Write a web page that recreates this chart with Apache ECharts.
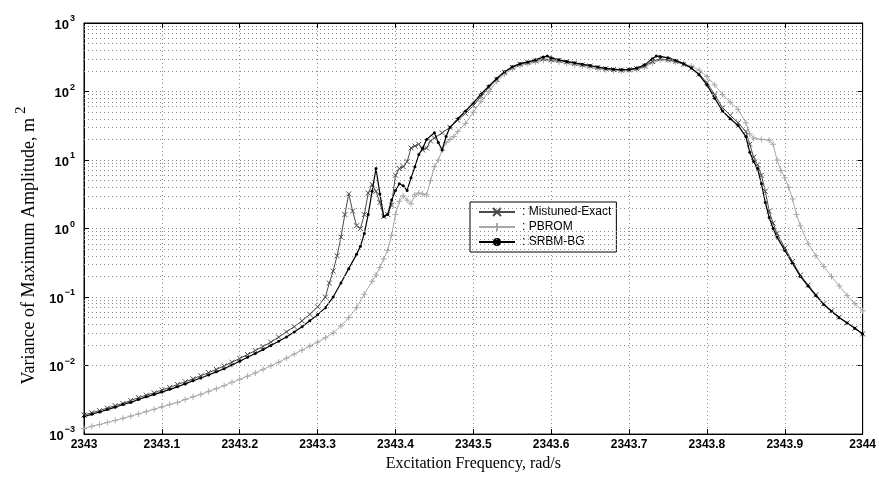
<!DOCTYPE html>
<html>
<head>
<meta charset="utf-8">
<script src="https://cdn.jsdelivr.net/npm/echarts@6/dist/echarts.min.js"></script>
<style>
html,body{margin:0;padding:0;background:#fff;}
#chart{width:879px;height:477px;}
</style>
</head>
<body>
<div id="chart"></div>
<script>
// ---------- data ----------
const seriesNames = ['Mistuned-Exact', 'PBROM', 'SRBM-BG'];
const xTickValues = [2343, 2343.1, 2343.2, 2343.3, 2343.4, 2343.5, 2343.6, 2343.7, 2343.8, 2343.9, 2344];
const yTickExponents = [-3, -2, -1, 0, 1, 2, 3];

const freqME = [
  2343.00,2343.01,2343.02,2343.03,2343.04,2343.05,2343.06,2343.07,2343.08,2343.09,
  2343.10,2343.11,2343.12,2343.13,2343.14,2343.15,2343.16,2343.17,2343.18,2343.19,
  2343.20,2343.21,2343.22,2343.23,2343.24,2343.25,2343.26,2343.27,2343.28,2343.29,
  2343.30,2343.31,2343.315,2343.32,2343.325,2343.33,2343.335,2343.34,2343.345,2343.35,
  2343.355,2343.36,2343.365,2343.37,2343.375,2343.38,2343.385,2343.39,2343.395,2343.40,
  2343.405,2343.41,2343.415,2343.42,2343.425,2343.43,2343.435,2343.44,2343.445,2343.45,
  2343.46,2343.47,2343.48,2343.49,2343.50,2343.51,2343.52,2343.53,2343.54,2343.55,
  2343.56,2343.57,2343.58,2343.59,2343.60,2343.61,2343.62,2343.63,2343.64,2343.65,
  2343.66,2343.67,2343.68,2343.69,2343.70,2343.71,2343.72,2343.73,2343.74,2343.75,
  2343.76,2343.77,2343.78,2343.79,2343.80,2343.81,2343.82,2343.83,2343.84,2343.85,
  2343.855,2343.86,2343.865,2343.87,2343.875,2343.88,2343.885,2343.89,2343.90,2343.91,
  2343.92,2343.93,2343.94,2343.95,2343.96,2343.97,2343.98,2343.99,2344.00
];
const valME = [
  0.0019,0.00205,0.0022,0.0024,0.0026,0.0028,0.0031,0.0034,0.0037,0.0040,
  0.0044,0.0048,0.0053,0.0058,0.0064,0.0071,0.0079,0.0088,0.0099,0.0112,
  0.0127,0.0145,0.0166,0.019,0.022,0.026,0.031,0.037,0.045,0.056,
  0.072,0.1,0.16,0.24,0.4,0.75,1.6,3.2,1.8,1.1,
  1.0,1.6,3.3,4.4,3.5,2.4,1.5,1.6,2.2,6.0,
  7.5,8.0,9.5,15,16,17,14,15,19,21,
  25,30,38,48,62,85,115,150,190,225,
  250,265,280,300,290,285,270,258,245,235,
  225,215,210,205,208,215,235,275,300,290,
  275,250,220,180,135,90,58,45,35,26,
  17,11,8.5,6,3.5,1.8,1.2,0.85,0.52,0.33,
  0.21,0.15,0.108,0.08,0.063,0.051,0.042,0.035,0.029
];

const freqPB = [
  2343.00,2343.01,2343.02,2343.03,2343.04,2343.05,2343.06,2343.07,2343.08,2343.09,
  2343.10,2343.11,2343.12,2343.13,2343.14,2343.15,2343.16,2343.17,2343.18,2343.19,
  2343.20,2343.21,2343.22,2343.23,2343.24,2343.25,2343.26,2343.27,2343.28,2343.29,
  2343.30,2343.31,2343.32,2343.33,2343.34,2343.35,2343.36,2343.37,
  2343.375,2343.38,2343.385,2343.39,2343.395,2343.40,2343.405,2343.41,2343.415,2343.42,
  2343.425,2343.43,2343.435,2343.44,2343.445,2343.45,2343.455,2343.46,2343.465,2343.47,
  2343.475,2343.48,2343.49,2343.50,2343.51,2343.52,2343.53,2343.54,2343.55,2343.56,
  2343.57,2343.58,2343.59,2343.60,2343.61,2343.62,2343.63,2343.64,2343.65,2343.66,
  2343.67,2343.68,2343.69,2343.70,2343.71,2343.72,2343.73,2343.74,2343.75,2343.76,
  2343.77,2343.78,2343.79,2343.80,2343.81,2343.82,2343.83,2343.84,2343.85,
  2343.855,2343.86,2343.87,2343.88,2343.885,2343.89,2343.895,2343.90,2343.905,2343.91,
  2343.915,2343.92,2343.93,2343.94,2343.95,2343.96,2343.97,2343.98,2343.99,2344.00
];
const valPB = [
  0.0012,0.0013,0.00138,0.00148,0.00158,0.0017,0.00183,0.00197,0.00213,0.0023,
  0.0025,0.0027,0.0029,0.0032,0.0035,0.0038,0.0042,0.0046,0.0051,0.0057,
  0.0063,0.007,0.0078,0.0088,0.0099,0.0112,0.0128,0.0147,0.0168,0.0192,
  0.022,0.0255,0.03,0.038,0.05,0.07,0.11,0.17,
  0.21,0.27,0.36,0.48,0.8,1.6,2.5,3.0,2.6,2.3,
  3.1,3.3,3.2,3.1,5.0,8.0,10,14,18,20,
  22,26,34,50,72,100,140,180,215,240,
  255,270,285,280,270,258,245,235,225,215,
  208,202,200,203,210,228,260,290,285,270,
  255,235,205,165,125,90,70,55,35,
  24,21,20,19.5,17,10,7,5.5,4,2.7,
  1.6,1.1,0.6,0.4,0.28,0.2,0.145,0.105,0.08,0.063
];

const freqSR = [
  2343.00,2343.01,2343.02,2343.03,2343.04,2343.05,2343.06,2343.07,2343.08,2343.09,
  2343.10,2343.11,2343.12,2343.13,2343.14,2343.15,2343.16,2343.17,2343.18,2343.19,
  2343.20,2343.21,2343.22,2343.23,2343.24,2343.25,2343.26,2343.27,2343.28,2343.29,
  2343.30,2343.31,2343.32,2343.33,2343.34,2343.35,2343.355,2343.36,2343.365,2343.37,
  2343.375,2343.38,2343.385,2343.39,2343.395,2343.40,2343.405,2343.41,2343.415,2343.42,
  2343.425,2343.43,2343.435,2343.44,2343.45,2343.455,2343.46,2343.465,2343.47,2343.48,
  2343.49,2343.50,2343.51,2343.52,2343.53,2343.54,2343.55,2343.56,2343.57,2343.58,
  2343.59,2343.595,2343.60,2343.61,2343.62,2343.63,2343.64,2343.65,2343.66,2343.67,
  2343.68,2343.69,2343.70,2343.71,2343.72,2343.73,2343.735,2343.74,2343.75,2343.76,
  2343.77,2343.78,2343.79,2343.80,2343.81,2343.82,2343.83,2343.84,2343.85,2343.855,
  2343.86,2343.865,2343.87,2343.875,2343.88,2343.885,2343.89,2343.90,2343.91,2343.92,
  2343.93,2343.94,2343.95,2343.96,2343.97,2343.98,2343.99,2344.00
];
const valSR = [
  0.0018,0.00195,0.0021,0.00228,0.00247,0.0027,0.0029,0.0032,0.0035,0.0038,
  0.0041,0.0045,0.0049,0.0054,0.006,0.0066,0.0073,0.0081,0.009,0.0102,
  0.0116,0.0132,0.015,0.0171,0.0196,0.0226,0.0262,0.031,0.037,0.045,
  0.055,0.07,0.1,0.16,0.26,0.42,0.55,0.85,1.6,3.5,
  7.5,3.2,1.5,1.6,2.6,3.6,4.5,4.2,3.6,5.5,
  8,12,15,20,25,18,14,22,30,40,
  52,68,92,120,155,195,230,255,270,290,
  320,330,310,290,275,262,250,240,228,218,
  212,208,210,220,245,300,330,325,310,285,
  255,220,175,125,80,52,40,32,22,13,
  9.5,7.5,4.5,2.4,1.45,1.0,0.75,0.48,0.31,0.2,
  0.145,0.105,0.078,0.062,0.05,0.042,0.035,0.029
];

// ---------- chart ----------
const zip = (xs, ys) => xs.map((x, i) => [x, ys[i]]);
const SANS = '"Liberation Sans", Arial, sans-serif';
const SERIF = '"Liberation Serif", "Times New Roman", serif';
const gridColor = '#8a8a8a';
const dotted = [1, 3];

// minor log grid lines (2..9 in each decade)
const minorLines = [];
for (let e = yTickExponents[0]; e < yTickExponents[yTickExponents.length - 1]; e++) {
  for (let k = 2; k <= 9; k++) minorLines.push({ yAxis: k * Math.pow(10, e) });
}

const xSym = 'path://M0,0L10,10M10,0L0,10';
const pSym = 'path://M5,0L5,10M0,5L10,5';

const expText = e => (e < 0 ? '\u2212' + Math.abs(e) : String(e));

const chart = echarts.init(document.getElementById('chart'), null, { renderer: 'canvas' });
chart.setOption({
  animation: false,
  backgroundColor: '#fff',
  grid: { left: 84, right: 16, top: 23, bottom: 34, show: true, borderColor: '#000', borderWidth: 1, backgroundColor: 'transparent' },
  legend: {
    data: seriesNames,
    orient: 'vertical',
    left: 470, top: 202,
    backgroundColor: '#fff',
    borderColor: '#000', borderWidth: 1,
    padding: [4, 5, 4, 8],
    itemGap: 3,
    itemWidth: 36, itemHeight: 10,
    formatter: n => ': ' + n,
    textStyle: { fontFamily: SANS, fontSize: 12, color: '#000', padding: [0, 0, 0, 2] }
  },
  xAxis: [{
    type: 'value', min: xTickValues[0], max: xTickValues[xTickValues.length - 1], interval: 0.1,
    name: 'Excitation Frequency, rad/s', nameLocation: 'middle', nameGap: 20,
    nameTextStyle: { fontFamily: SERIF, fontSize: 16, color: '#000' },
    axisLine: { show: true, lineStyle: { color: '#000' } },
    axisTick: { show: true, inside: true, length: 5, lineStyle: { color: '#000' } },
    axisLabel: { fontFamily: SANS, fontSize: 12, fontWeight: 'bold', color: '#000', margin: 5,
      formatter: v => String(Math.round(v * 10) / 10) },
    splitLine: { show: true, lineStyle: { color: gridColor, type: dotted, width: 1 } }
  }, {
    type: 'value', position: 'top', min: xTickValues[0], max: xTickValues[xTickValues.length - 1], interval: 0.1,
    axisLine: { show: true, lineStyle: { color: '#000' } },
    axisTick: { show: true, inside: true, length: 5, lineStyle: { color: '#000' } },
    axisLabel: { show: false }, splitLine: { show: false }
  }],
  yAxis: [{
    type: 'log', logBase: 10, min: 1e-3, max: 1e3,
    name: '{t|Variance of Maximum Amplitude, m}{s|2}', nameLocation: 'middle', nameGap: 36,
    nameTextStyle: {
      color: '#000',
      padding: [0, 34, 0, 0],
      rich: {
        t: { fontFamily: SERIF, fontSize: 18, color: '#000' },
        s: { fontFamily: SERIF, fontSize: 15, color: '#000', padding: [0, 0, 16, 4] }
      }
    },
    axisLine: { show: true, lineStyle: { color: '#000' } },
    axisTick: { show: true, inside: true, length: 5, lineStyle: { color: '#000' } },
    axisLabel: {
      margin: 9,
      formatter: v => '{b|10}{s|' + expText(Math.round(Math.log10(v))) + '}',
      rich: {
        b: { fontFamily: SANS, fontSize: 13, fontWeight: 'bold', color: '#000', padding: [4, 0, 0, 0] },
        s: { fontFamily: SANS, fontSize: 9, fontWeight: 'bold', color: '#000', padding: [0, 0, 9, 1] }
      }
    },
    splitLine: { show: true, lineStyle: { color: gridColor, type: dotted, width: 1 } }
  }, {
    type: 'log', logBase: 10, min: 1e-3, max: 1e3, position: 'right',
    axisLine: { show: true, lineStyle: { color: '#000' } },
    axisTick: { show: true, inside: true, length: 5, lineStyle: { color: '#000' } },
    axisLabel: { show: false }, splitLine: { show: false }
  }],
  series: [
    {
      name: 'PBROM', type: 'line', data: zip(freqPB, valPB), z: 2,
      symbol: pSym, symbolSize: 6, showAllSymbol: true,
      lineStyle: { color: '#a8a8a8', width: 1 },
      itemStyle: { color: '#a8a8a8', borderColor: '#a8a8a8', borderWidth: 1 },
      markLine: {
        silent: true, symbol: ['none', 'none'], label: { show: false }, animation: false,
        lineStyle: { color: gridColor, type: dotted, width: 1 },
        data: minorLines
      }
    },
    {
      name: 'Mistuned-Exact', type: 'line', data: zip(freqME, valME), z: 3,
      symbol: xSym, symbolSize: 5, showAllSymbol: true,
      lineStyle: { color: '#4a4a4a', width: 1 },
      itemStyle: { color: '#4a4a4a', borderColor: '#4a4a4a', borderWidth: 1 }
    },
    {
      name: 'SRBM-BG', type: 'line', data: zip(freqSR, valSR), z: 4,
      symbol: 'circle', symbolSize: 3, showAllSymbol: true,
      lineStyle: { color: '#000', width: 1.2 },
      itemStyle: { color: '#000', borderWidth: 0 }
    }
  ]
});
</script>
</body>
</html>
